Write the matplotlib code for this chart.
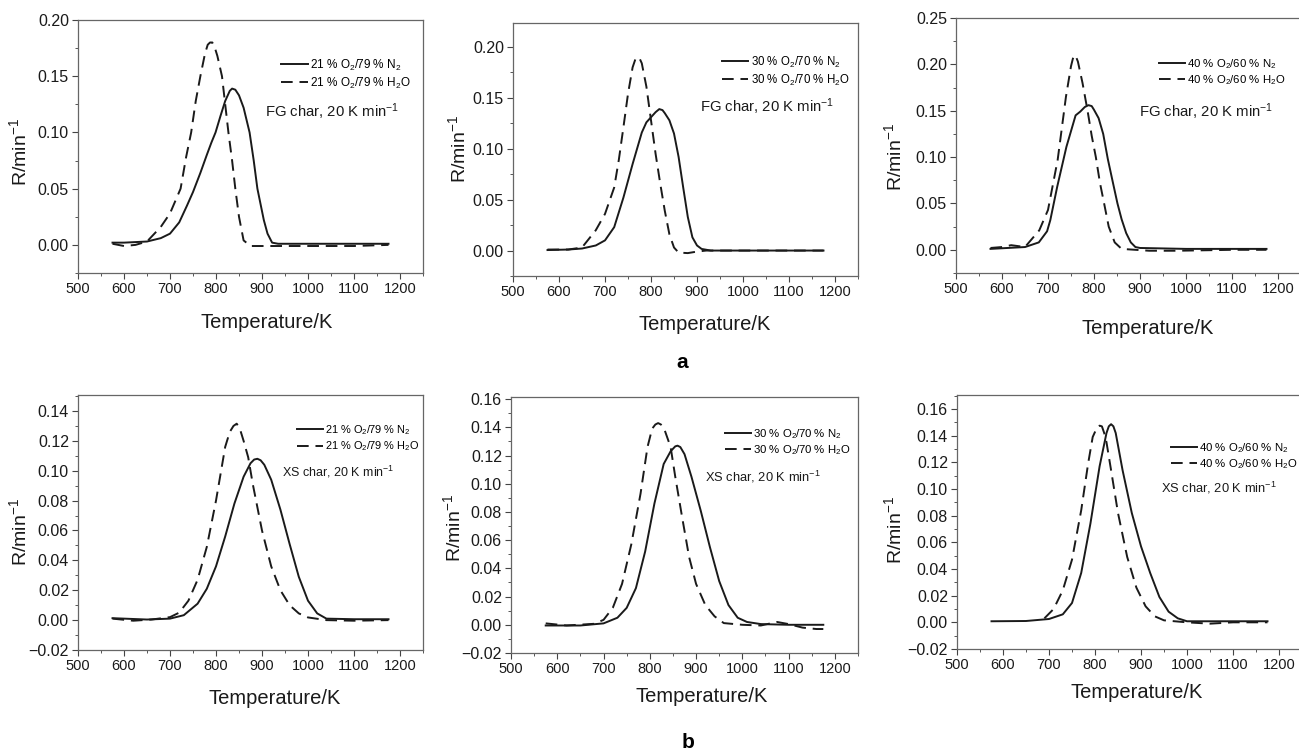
import numpy as np
import matplotlib
matplotlib.use("Agg")
import matplotlib.pyplot as plt
from matplotlib.ticker import MultipleLocator, FuncFormatter

plt.rcParams['font.family'] = ['Liberation Sans', 'DejaVu Sans']
plt.rcParams['mathtext.default'] = 'regular'

W, H = 1299, 753

# --- FG char (row a) ---
fg21_n2_T = [575, 600, 650, 680, 700, 720, 737, 750, 766, 780, 790, 799, 810, 820, 830, 835, 842, 850, 860, 873, 882, 890, 904, 912, 922, 935, 1000, 1100, 1175]
fg21_n2_R = [0.002, 0.002, 0.003, 0.006, 0.010, 0.020, 0.035, 0.047, 0.064, 0.080, 0.091, 0.100, 0.115, 0.128, 0.137, 0.139, 0.138, 0.133, 0.122, 0.100, 0.075, 0.050, 0.022, 0.010, 0.002, 0.001, 0.001, 0.001, 0.001]
fg21_h2o_T = [575, 600, 625, 650, 680, 700, 723, 735, 746, 756, 766, 776, 782, 787, 792, 797, 803, 813, 820, 827, 835, 842, 850, 860, 875, 920, 1000, 1100, 1175]
fg21_h2o_R = [0.001, -0.001, 0.0, 0.003, 0.016, 0.028, 0.050, 0.078, 0.100, 0.128, 0.150, 0.170, 0.178, 0.180, 0.180, 0.176, 0.168, 0.150, 0.125, 0.100, 0.075, 0.050, 0.025, 0.004, -0.001, -0.001, -0.001, -0.001, 0.0]

fg30_n2_T = [575, 620, 650, 680, 700, 720, 740, 760, 780, 790, 800, 810, 818, 825, 830, 840, 850, 860, 870, 880, 890, 900, 910, 930, 1000, 1100, 1175]
fg30_n2_R = [0.0005, 0.001, 0.002, 0.005, 0.010, 0.023, 0.052, 0.085, 0.116, 0.126, 0.131, 0.136, 0.139, 0.138, 0.135, 0.128, 0.115, 0.092, 0.062, 0.033, 0.013, 0.005, 0.0016, 0.0, 0.0, 0.0, 0.0]
fg30_h2o_T = [575, 620, 650, 680, 700, 720, 730, 740, 750, 760, 766, 770, 775, 780, 790, 800, 810, 820, 830, 840, 850, 860, 880, 900, 920, 1000, 1100, 1175]
fg30_h2o_R = [0.001, 0.001, 0.003, 0.020, 0.036, 0.062, 0.089, 0.121, 0.154, 0.180, 0.188, 0.190, 0.189, 0.184, 0.161, 0.128, 0.095, 0.066, 0.039, 0.016, 0.003, -0.002, -0.0025, -0.001, 0.0, 0.0, 0.0, 0.0]

fg40_n2_T = [575, 650, 680, 698, 705, 720, 740, 760, 770, 780, 788, 795, 800, 810, 820, 830, 840, 851, 860, 870, 880, 890, 900, 1000, 1100, 1175]
fg40_n2_R = [0.001, 0.003, 0.008, 0.020, 0.032, 0.068, 0.111, 0.145, 0.149, 0.154, 0.156, 0.155, 0.151, 0.142, 0.125, 0.098, 0.075, 0.050, 0.033, 0.018, 0.008, 0.003, 0.002, 0.001, 0.001, 0.001]
fg40_h2o_T = [575, 600, 620, 650, 681, 700, 721, 739, 750, 754, 757, 761, 765, 775, 786, 795, 804, 813, 822, 832, 845, 860, 920, 980, 1100, 1175]
fg40_h2o_R = [0.002, 0.003, 0.005, 0.003, 0.021, 0.043, 0.097, 0.165, 0.198, 0.206, 0.210, 0.208, 0.203, 0.180, 0.150, 0.123, 0.100, 0.072, 0.050, 0.025, 0.008, 0.001, -0.001, -0.001, 0.0, 0.0]

# --- XS char (row b) ---
xs21_n2_T = [575, 650, 700, 730, 760, 780, 800, 820, 840, 860, 875, 883, 890, 897, 905, 920, 940, 960, 980, 1000, 1020, 1040, 1100, 1175]
xs21_n2_R = [0.0013, 0.0004, 0.001, 0.0033, 0.011, 0.021, 0.036, 0.056, 0.078, 0.096, 0.105, 0.1075, 0.108, 0.107, 0.104, 0.094, 0.074, 0.051, 0.029, 0.013, 0.0045, 0.001, 0.0006, 0.0006]
xs21_h2o_T = [575, 620, 660, 700, 720, 740, 760, 780, 800, 820, 830, 838, 845, 852, 860, 870, 880, 900, 920, 940, 960, 980, 1000, 1040, 1100, 1175]
xs21_h2o_R = [0.001, -0.0004, 0.0004, 0.002, 0.005, 0.013, 0.027, 0.049, 0.080, 0.116, 0.126, 0.130, 0.1315, 0.128, 0.120, 0.109, 0.091, 0.060, 0.036, 0.020, 0.010, 0.0045, 0.0018, 0.0, -0.0004, 0.0]

xs30_n2_T = [575, 650, 700, 730, 750, 770, 790, 810, 830, 845, 855, 860, 866, 875, 890, 910, 930, 950, 970, 990, 1010, 1040, 1100, 1175]
xs30_n2_R = [-0.0005, -0.0005, 0.001, 0.005, 0.012, 0.026, 0.052, 0.086, 0.114, 0.123, 0.1265, 0.127, 0.126, 0.121, 0.105, 0.081, 0.055, 0.031, 0.014, 0.005, 0.002, 0.0005, 0.0, 0.0]
xs30_h2o_T = [575, 620, 680, 700, 720, 740, 760, 780, 795, 805, 812, 818, 824, 830, 845, 855, 870, 885, 900, 920, 940, 960, 1000, 1040, 1075, 1100, 1130, 1160, 1175]
xs30_h2o_R = [0.001, -0.0005, 0.0007, 0.0035, 0.012, 0.029, 0.057, 0.093, 0.126, 0.139, 0.142, 0.143, 0.142, 0.140, 0.126, 0.105, 0.076, 0.048, 0.029, 0.014, 0.006, 0.0012, 0.0, -0.0005, 0.002, 0.0005, -0.002, -0.003, -0.003]

xs40_n2_T = [575, 650, 700, 730, 750, 770, 790, 810, 825, 830, 835, 840, 845, 860, 880, 900, 920, 940, 960, 980, 1000, 1100, 1175]
xs40_n2_R = [0.0008, 0.001, 0.0025, 0.006, 0.0145, 0.037, 0.074, 0.117, 0.142, 0.147, 0.1486, 0.147, 0.142, 0.114, 0.082, 0.057, 0.037, 0.019, 0.008, 0.003, 0.0008, 0.0008, 0.0008]
xs40_h2o_T = [690, 710, 730, 750, 770, 785, 795, 805, 810, 815, 820, 825, 835, 850, 870, 890, 910, 930, 950, 1000, 1050, 1100, 1175]
xs40_h2o_R = [0.003, 0.010, 0.024, 0.047, 0.084, 0.119, 0.139, 0.1466, 0.1475, 0.147, 0.142, 0.135, 0.114, 0.082, 0.049, 0.026, 0.012, 0.0045, 0.0015, 0.0, -0.001, 0.0, 0.0]

labels_n2 = ['21 % O$_2$/79 % N$_2$', '30 % O$_2$/70 % N$_2$', '40 % O$_2$/60 % N$_2$']
labels_h2o = ['21 % O$_2$/79 % H$_2$O', '30 % O$_2$/70 % H$_2$O', '40 % O$_2$/60 % H$_2$O']
notes = ['FG char, 20 K min$^{-1}$', 'XS char, 20 K min$^{-1}$']

# panel layout in pixels: left, top, right, bottom; text anchors also in pixels
panels = [
    dict(box=(78, 20, 423, 273), ylim=(-0.025, 0.20), ymaj=0.05, ymin=0.025,
         data=(fg21_n2_T, fg21_n2_R, fg21_h2o_T, fg21_h2o_R), lab=0, note=0,
         leg=(275, 74), note_xy=(265, 112), leg_fs=8.5, note_fs=10.7,
         xl=(267, 322), yl=(19, 152)),
    dict(box=(513, 23, 858, 276), ylim=(-0.025, 0.2236), ymaj=0.05, ymin=0.025,
         data=(fg30_n2_T, fg30_n2_R, fg30_h2o_T, fg30_h2o_R), lab=1, note=0,
         leg=(716, 71), note_xy=(700, 107), leg_fs=8.3, note_fs=10.7,
         xl=(705, 325), yl=(458, 149)),
    dict(box=(956, 18, 1301, 273), ylim=(-0.025, 0.25), ymaj=0.05, ymin=0.025,
         data=(fg40_n2_T, fg40_n2_R, fg40_h2o_T, fg40_h2o_R), lab=2, note=0,
         leg=(1153, 72), note_xy=(1139, 112), leg_fs=8.2, note_fs=10.7,
         xl=(1148, 328), yl=(894, 157)),
    dict(box=(78, 395, 423, 650), ylim=(-0.02, 0.1507), ymaj=0.02, ymin=0.01,
         data=(xs21_n2_T, xs21_n2_R, xs21_h2o_T, xs21_h2o_R), lab=0, note=1,
         leg=(292, 438), note_xy=(282, 472), leg_fs=7.9, note_fs=9.0,
         xl=(275, 698), yl=(19, 532)),
    dict(box=(511, 397, 858, 653), ylim=(-0.02, 0.1615), ymaj=0.02, ymin=0.01,
         data=(xs30_n2_T, xs30_n2_R, xs30_h2o_T, xs30_h2o_R), lab=1, note=1,
         leg=(719, 442), note_xy=(705, 477), leg_fs=8.2, note_fs=9.3,
         xl=(702, 697), yl=(453, 528)),
    dict(box=(957, 395, 1302, 649), ylim=(-0.02, 0.1705), ymaj=0.02, ymin=0.01,
         data=(xs40_n2_T, xs40_n2_R, xs40_h2o_T, xs40_h2o_R), lab=2, note=1,
         leg=(1165, 456), note_xy=(1161, 488), leg_fs=8.2, note_fs=9.3,
         xl=(1137, 693), yl=(894, 530)),
]

minus_fmt = FuncFormatter(lambda v, pos: f"{v:.2f}".replace('-', '\u2212'))
ink = '#1a1a1a'

fig = plt.figure(figsize=(W / 100, H / 100), dpi=100)

for p in panels:
    l, t, r, b = p['box']
    ax = fig.add_axes([l / W, 1 - b / H, (r - l) / W, (b - t) / H])
    nT, nR, hT, hR = p['data']
    ax.plot(nT, nR, color=ink, lw=1.4, solid_joinstyle='round', label=labels_n2[p['lab']])
    ax.plot(hT, hR, color=ink, lw=1.4, dashes=(6, 3.5), dash_joinstyle='round',
            label=labels_h2o[p['lab']])

    ax.set_xlim(500, 1250)
    ax.set_ylim(*p['ylim'])
    ax.xaxis.set_major_locator(MultipleLocator(100))
    ax.xaxis.set_minor_locator(MultipleLocator(50))
    ax.yaxis.set_major_locator(MultipleLocator(p['ymaj']))
    ax.yaxis.set_minor_locator(MultipleLocator(p['ymin']))
    ax.yaxis.set_major_formatter(minus_fmt)
    ax.tick_params(which='major', direction='out', length=4.5, width=0.8, color='#444444',
                   labelsize=10.5, labelcolor='#1a1a1a', pad=2)
    ax.tick_params(which='minor', direction='out', length=2.5, width=0.7, color='#555555')
    ax.tick_params(axis='y', labelsize=11.5)
    for s in ax.spines.values():
        s.set_color('#666666')
        s.set_linewidth(0.9)

    def to_axes(px, py):
        return (px - l) / (r - l), (b - py) / (b - t)

    ax.set_xlabel('Temperature/K', fontsize=14.5, color='#1a1a1a')
    ax.xaxis.set_label_coords(*to_axes(*p['xl']))
    ax.xaxis.label.set_va('center')
    ax.set_ylabel('R/min$^{-1}$', fontsize=14, color='#1a1a1a')
    ax.yaxis.set_label_coords(*to_axes(*p['yl']))
    ax.yaxis.label.set_va('center')

    lx, ly = to_axes(*p['leg'])
    ax.legend(loc='center left', bbox_to_anchor=(lx, ly), frameon=False, borderpad=0,
              handlelength=2.3, handletextpad=0.2, labelspacing=0.25,
              fontsize=p['leg_fs'])

    nx, ny = to_axes(*p['note_xy'])
    ax.text(nx, ny, notes[p['note']], transform=ax.transAxes, ha='left', va='center',
            fontsize=p['note_fs'], color='#1a1a1a')

fig.text(682 / W, 1 - 363 / H, 'a', ha='center', va='center', fontsize=15, fontweight='bold')
fig.text(688 / W, 1 - 743 / H, 'b', ha='center', va='center', fontsize=15, fontweight='bold')

fig.savefig('out.png', dpi=100)
